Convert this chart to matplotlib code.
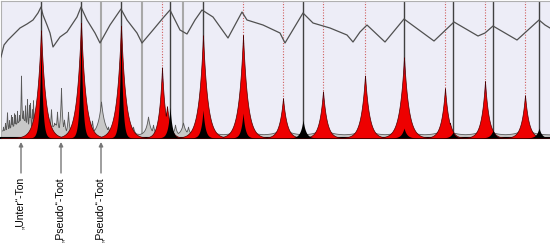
import numpy as np
import matplotlib
matplotlib.use("Agg")
import matplotlib.pyplot as plt

plt.rcParams['font.family'] = ['Liberation Sans', 'DejaVu Sans']

# frequency axis in display bins, amplitude in arbitrary units
harm_lines = [41, 81, 121, 170, 203, 303, 404, 453, 493, 539]
pseudo_lines = [101, 142, 183]
dotted_lines = [162, 243, 283, 323, 365, 445, 485, 525]

red_c = [41, 81, 121, 162, 167, 203, 243, 283, 323, 365, 370, 404, 445, 450, 485, 490, 525, 530]
red_h = [108, 116, 113, 71, 32, 103, 103, 40, 47, 63, 10, 81, 50, 15, 57, 14, 43, 10]
red_w = [4.5, 4.5, 4.5, 3.2, 3.5, 4.5, 4.5, 3.8, 3.8, 4.2, 4, 4.6, 3.8, 3.5, 3.8, 3.5, 3.8, 3.5]

black_c = [41, 81, 121, 170, 203, 243, 303, 404, 453, 493, 539]
black_h = [95, 110, 108, 31, 28, 25, 18, 10, 6, 8, 10]
black_w = [1.7, 1.7, 1.7, 2.2, 2.2, 2.2, 2.8, 2.8, 2.8, 2.8, 2.8]

blue_c = [162, 323, 404, 485]
blue_h = [70, 46, 80, 56]

gray_c = [3, 5, 7, 9, 11, 12, 14, 15, 17, 19, 21, 23, 25, 27, 29, 30, 32, 33, 35, 37, 39,
          45, 48, 51, 54, 57, 61, 64, 68, 72, 88, 92, 101, 108, 113, 133, 148, 153, 175, 183,
          188, 41, 81, 121, 162, 203, 243, 283, 323, 365, 404, 445, 485, 525, 22, 55]
gray_h = [8, 12, 23, 15, 20, 18, 22, 20, 24, 20, 61, 25, 30, 36, 30, 33, 26, 35, 22, 28, 15,
          12, 18, 26, 12, 23, 47, 15, 23, 10, 10, 14, 33, 8, 10, 8, 18, 10, 10, 12,
          8, 12, 12, 12, 10, 10, 10, 8, 8, 8, 8, 8, 8, 8, 17, 11]
gray_w = [0.8] * 21 + [1.2] * 6 + [1.5, 1.2, 1.2, 1.5, 1.5, 3.5, 1.5, 1.5, 1.5, 2.5,
          1.5, 1.5, 2.5, 1.5] + [6] * 13 + [14, 9]

curve_x = [1, 4, 8, 14, 20, 27, 33, 38, 41, 43, 47, 50, 53, 60, 67, 77, 81, 87, 95, 100,
           110, 121, 127, 137, 142, 153, 163, 170, 175, 180, 187, 195, 202, 213, 228, 242,
           247, 263, 280, 285, 303, 313, 330, 347, 353, 360, 367, 385, 404, 434, 454, 478,
           485, 493, 517, 539, 545, 550]
curve_y = [81, 93, 98, 104, 110, 114, 118, 125, 131, 123, 113, 105, 91, 101, 106, 121, 131,
           118, 105, 95, 113, 129, 118, 105, 95, 108, 120, 128, 118, 108, 104, 118, 128, 121,
           100, 126, 118, 113, 105, 95, 125, 115, 110, 103, 96, 106, 113, 96, 119, 97, 116,
           102, 105, 112, 98, 118, 113, 110]

notes = ["\u201eUnter\u201c-Ton", "\u201ePseudo\u201c-Toot", "\u201ePseudo\u201c-Toot"]
note_x = [21, 61, 101]


def spectrum(x, cs, hs, ws):
    y = np.zeros_like(x)
    for c, h, w in zip(cs, hs, ws):
        y = np.maximum(y, h * np.exp(-np.abs(x - c) / w))
    return y


x = np.linspace(1, 550, 8000)
gray = 3.5 + spectrum(x, gray_c, gray_h, gray_w)
red = spectrum(x, red_c, red_h, red_w)
black = spectrum(x, black_c, black_h, black_w)

fig = plt.figure(figsize=(5.5, 2.49), dpi=100)
ax = fig.add_axes([1 / 550, 1 - 138 / 249, 549 / 550, 137 / 249])
ax.set_facecolor('#ededf7')

for v in harm_lines:
    ax.axvline(v, color='#404040', lw=1.0, zorder=1)
for v in pseudo_lines:
    ax.axvline(v, color='#a8a8a8', lw=1.5, zorder=1)
for v in dotted_lines:
    ax.axvline(v, color='#d06060', lw=0.8, ls=(0, (1, 1.5)), zorder=1)

ax.fill_between(x, 0, gray, color='#c8c8c8', edgecolor='#5a5a5a', lw=0.6, zorder=2)
ax.fill_between(x, 0, red, color='#ee0000', edgecolor='#500000', lw=0.5, zorder=3)
for c, h in zip(blue_c, blue_h):
    b = h * np.exp(-np.abs(x - c) / 0.9)
    ax.fill_between(x, 0.8 * h, b, where=b > 0.8 * h, color='#202060', lw=0, zorder=4)
ax.fill_between(x, 0, black, color='black', lw=0, zorder=5)
ax.plot(curve_x, curve_y, color='#505050', lw=0.9, zorder=6)

ax.set_xlim(1, 550)
ax.set_ylim(0, 137)
ax.set_xticks([])
ax.set_yticks([])
ax.spines['right'].set_visible(False)
for s in ['left', 'top']:
    ax.spines[s].set_color('#b0b0b0')
    ax.spines[s].set_linewidth(0.8)
ax.spines['bottom'].set_color('black')
ax.spines['bottom'].set_linewidth(1.5)

for label, nx in zip(notes, note_x):
    ax.annotate('', xy=(nx, -4), xytext=(nx, -35), xycoords='data',
                arrowprops=dict(arrowstyle='-|>', color='#777777', lw=1.0,
                                mutation_scale=6, shrinkA=0, shrinkB=0),
                annotation_clip=False)
    ax.text(nx - 1, -39, label, rotation=90, ha='center', va='top',
            fontsize=7.5, color='black', clip_on=False)

fig.savefig('out.png', dpi=100)
